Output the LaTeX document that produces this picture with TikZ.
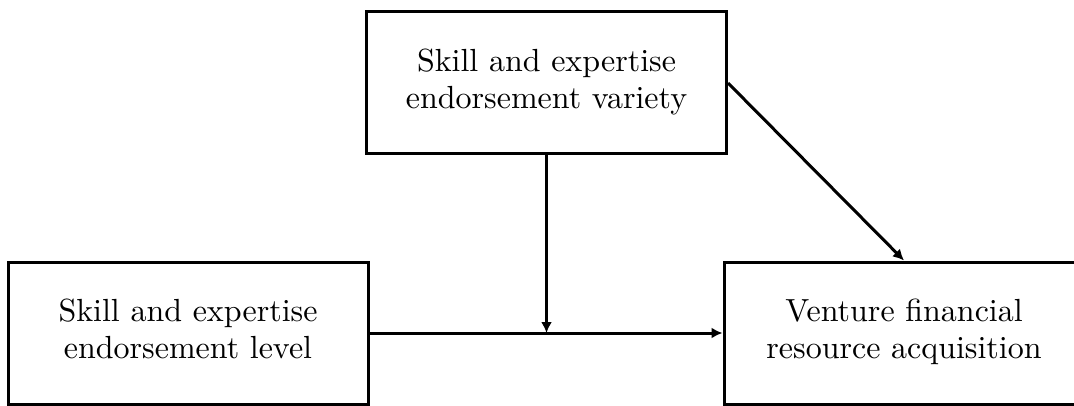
\documentclass[tikz,border=0pt]{standalone}
\usetikzlibrary{arrows.meta}
% two-line label set at 10pt design size and enlarged
\newcommand{\boxlabel}[2]{\raisebox{-1pt}{\scalebox{1.6}{\fontsize{10}{11.5625}\selectfont\begin{tabular}{@{}c@{}}#1\\#2\end{tabular}}}}
\begin{document}
\begin{tikzpicture}[x=0.5pt,y=-0.5pt,
  box/.style={draw,line width=1.5pt,minimum width=180pt,minimum height=71pt,
    align=center,inner sep=0pt},
  link/.style={line width=1.5pt,-{Latex[length=5.5pt,width=5.5pt]}}]
  \clip (0,0) rectangle (1074,406);
  \useasboundingbox (0,0) rectangle (1074,406);
  % construct boxes
  \node[box] (variety) at (546.5,83) {\boxlabel{Skill and expertise}{endorsement variety}};
  \node[box] (level) at (188,333) {\boxlabel{Skill and expertise}{endorsement level}};
  \node[box] (acq) at (904,333) {\boxlabel{Venture financial}{resource acquisition}};
  % moderation point on the main path
  \coordinate (mod) at (variety.south |- level.east);
  % paths
  \draw[link] (level.east) -- (acq.west);
  \draw[link] (variety.south) -- (mod);
  \draw[link] (variety.east) -- (acq.north);
\end{tikzpicture}
\end{document}
